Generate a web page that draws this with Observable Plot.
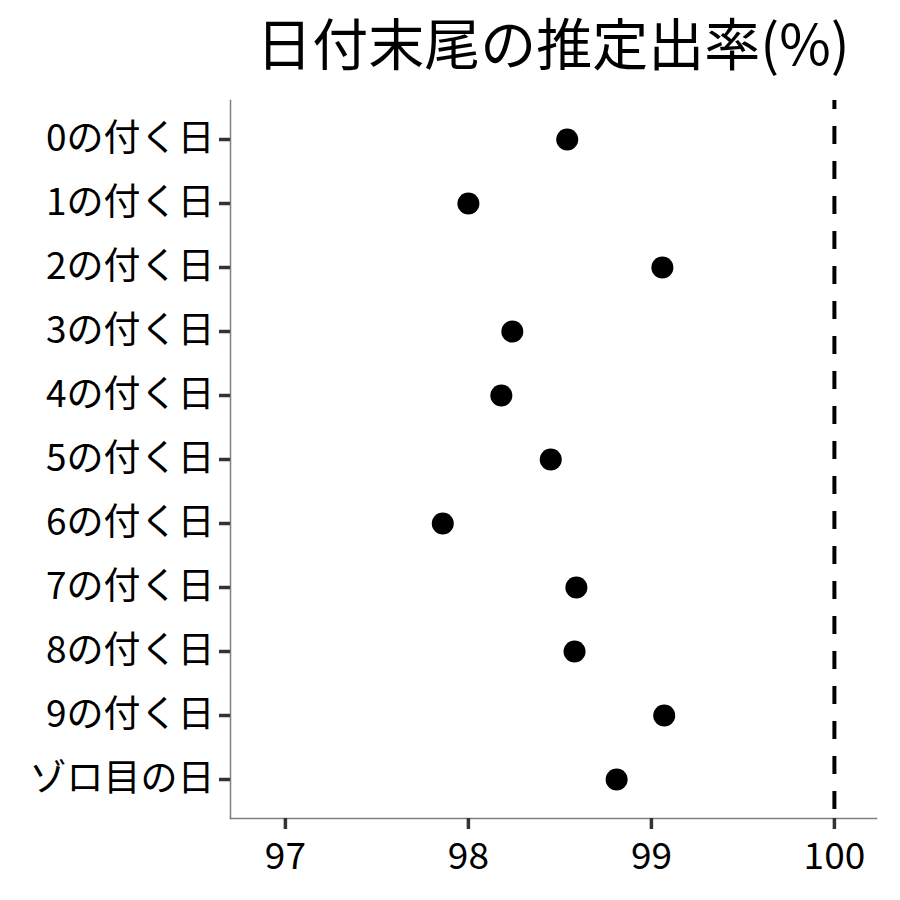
<!DOCTYPE html>
<html>
<head>
<meta charset="utf-8">
<script src="https://cdn.jsdelivr.net/npm/d3@7"></script>
<script src="https://cdn.jsdelivr.net/npm/@observablehq/plot@0.6"></script>
<style>
  html, body { margin: 0; padding: 0; background: #fff; }
  #wrap { position: relative; width: 900px; height: 900px; font-family: "Noto Sans CJK JP", "Noto Sans", sans-serif; }
  #title { position: absolute; left: 153px; top: 0; width: 800px; text-align: center; font-size: 56px; line-height: 82px; white-space: nowrap; color: #000; margin: 0; font-weight: normal; }
  #chart { position: absolute; left: 0; top: 90px; }
</style>
</head>
<body>
<div id="wrap">
  <h1 id="title">日付末尾の推定出率(%)</h1>
  <div id="chart"></div>
</div>
<script>
const categories = ["0の付く日", "1の付く日", "2の付く日", "3の付く日", "4の付く日", "5の付く日", "6の付く日", "7の付く日", "8の付く日", "9の付く日", "ゾロ目の日"];
const rates = [98.54, 98.00, 99.06, 98.24, 98.18, 98.45, 97.86, 98.59, 98.58, 99.07, 98.81];
const xTicks = [97, 98, 99, 100];
const refLine = [100];
const xDomain = [96.7, 100.23];

const data = categories.map((c, i) => ({category: c, rate: rates[i]}));

const W = 900, H = 810, MT = 10, MB = 82, ML = 230, MR = 24;
const tickLen = 11;

const plot = Plot.plot({
  width: W,
  height: H,
  marginTop: MT,
  marginBottom: MB,
  marginLeft: ML,
  marginRight: MR,
  style: {fontFamily: '"Noto Sans CJK JP", "Noto Sans", sans-serif', fontSize: "37px", color: "#000", background: "#fff"},
  x: {domain: xDomain, ticks: xTicks},
  y: {type: "point", domain: categories, padding: 0.6},
  marks: [
    Plot.frame({anchor: "left", stroke: "#7f7f7f", strokeWidth: 1.5}),
    Plot.frame({anchor: "bottom", stroke: "#7f7f7f", strokeWidth: 1.5}),
    // tick marks
    Plot.ruleY(categories, {y: d => d, x1: xDomain[0], x2: xDomain[0], insetLeft: -tickLen, stroke: "#333", strokeWidth: 3.5}),
    Plot.ruleX(xTicks, {x: d => d, insetTop: H - MT - MB, insetBottom: -tickLen, stroke: "#333", strokeWidth: 3.5}),
    // tick labels
    Plot.axisX({ticks: xTicks, tickSize: 0, tickPadding: 24, tickFormat: d => String(d), fontSize: 37, fill: "#000", label: null}),
    Plot.axisY({tickSize: 0, tickPadding: 16, fontSize: 37, fill: "#000", label: null}),
    Plot.ruleX(refLine, {stroke: "#000", strokeWidth: 4, strokeDasharray: "18,17", strokeDashoffset: 9}),
    Plot.dot(data, {x: "rate", y: "category", r: 11, fill: "#000", stroke: "none"})
  ]
});
document.getElementById("chart").appendChild(plot);
</script>
</body>
</html>
